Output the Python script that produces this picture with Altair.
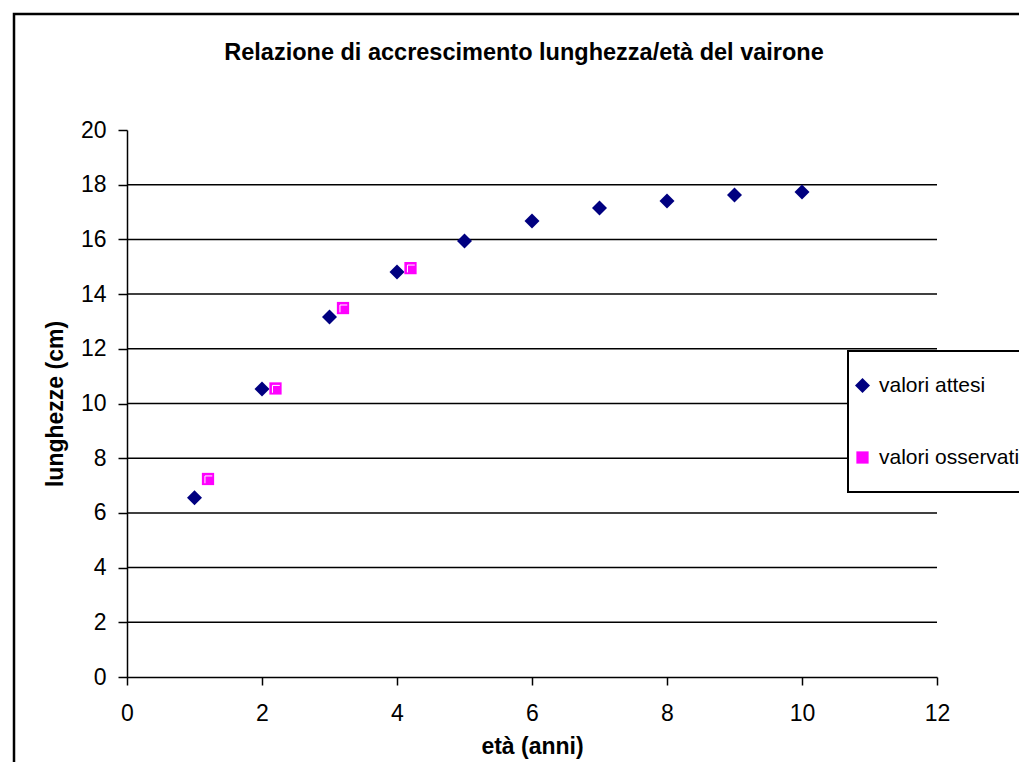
import altair as alt
import pandas as pd

# ---- data ----
serie = ["valori attesi", "valori osservati"]
eta_attesi = [1, 2, 3, 4, 5, 6, 7, 8, 9, 10]
lung_attesi = [6.55, 10.53, 13.16, 14.81, 15.94, 16.67, 17.15, 17.40, 17.62, 17.73]
eta_osservati = [1.2, 2.2, 3.2, 4.2]
lung_osservati = [7.24, 10.55, 13.49, 14.95]
x_ticks = [0, 2, 4, 6, 8, 10, 12]
y_ticks = [0, 2, 4, 6, 8, 10, 12, 14, 16, 18, 20]
grid_values = [2, 4, 6, 8, 10, 12, 14, 16, 18]

FONT = "Liberation Sans"
W, H = 810, 547

df = pd.DataFrame({
    "eta": eta_attesi + eta_osservati,
    "lung": lung_attesi + lung_osservati,
    "serie": [serie[0]] * len(eta_attesi) + [serie[1]] * len(eta_osservati),
})
df_oss = df[df["serie"] == serie[1]]
grid_df = pd.DataFrame({"v": grid_values})

xscale = alt.Scale(domain=[0, 12], nice=False, zero=False)
yscale = alt.Scale(domain=[0, 20], nice=False)

xaxis = alt.Axis(values=x_ticks, format="d", title="età (anni)", grid=False, tickSize=8,
                 labelPadding=17, titlePadding=10, labelFlush=False)
yaxis = alt.Axis(values=y_ticks, format="d", title="lunghezze (cm)", grid=False, tickSize=9,
                 labelPadding=12, titlePadding=13, labelFlush=False)

leg = alt.Legend(
    title=None, orient="none", legendX=721, legendY=221, direction="vertical",
    padding=7, rowPadding=17, clipHeight=55, symbolOffset=-3, labelOffset=6,
    labelFont=FONT, labelFontSize=21, labelColor="black", labelLimit=400,
    symbolSize=200, symbolStrokeWidth=0, strokeColor="black", fillColor="white",
)

frame = alt.Chart(alt.Data(values=[{}])).mark_rect(
    fill="transparent", stroke="black", strokeWidth=2.5
).encode(
    x=alt.value(-113), x2=alt.value(1000), y=alt.value(-116), y2=alt.value(700)
)

grid = alt.Chart(grid_df).mark_rule(color="black", strokeWidth=1.5).encode(
    y=alt.Y("v:Q", scale=yscale, axis=yaxis)
)

points = alt.Chart(df).mark_point(filled=True, opacity=1, strokeWidth=0).encode(
    x=alt.X("eta:Q", scale=xscale, axis=xaxis),
    y=alt.Y("lung:Q", scale=yscale, axis=yaxis),
    color=alt.Color("serie:N", scale=alt.Scale(domain=serie, range=["#000080", "#FF00FF"]), legend=leg),
    shape=alt.Shape("serie:N", scale=alt.Scale(domain=serie, range=["diamond", "square"]), legend=leg),
    size=alt.Size("serie:O", scale=alt.Scale(domain=serie, range=[225, 150]), legend=None),
)

highlight = alt.Chart(df_oss).mark_point(
    shape="M-0.5,0.7L-0.5,-0.5L0.7,-0.5", filled=False, stroke="white",
    strokeWidth=1, size=150, opacity=1
).encode(
    x=alt.X("eta:Q", scale=xscale, axis=xaxis),
    y=alt.Y("lung:Q", scale=yscale, axis=yaxis),
)

chart = alt.layer(frame, grid, points, highlight).properties(
    width=W, height=H,
    autosize="none",
    padding={"left": 119, "top": 122, "right": 82, "bottom": 85},
    background="white",
    title=alt.Title(
        "Relazione di accrescimento lunghezza/età del vairone",
        font=FONT, fontSize=23.5, fontWeight="bold", color="black",
        anchor="middle", frame="group", dx=-8, offset=0, dy=52,
    ),
).configure_view(strokeWidth=0).configure_axis(
    domainColor="black", domainWidth=1.5, tickColor="black", tickWidth=1.5,
    labelFont=FONT, labelFontSize=23, labelColor="black",
    titleFont=FONT, titleFontSize=23, titleFontWeight="bold", titleColor="black",
).configure_legend(strokeWidth=2)

chart.save("out.html", embed_options={"renderer": "svg", "actions": False})
